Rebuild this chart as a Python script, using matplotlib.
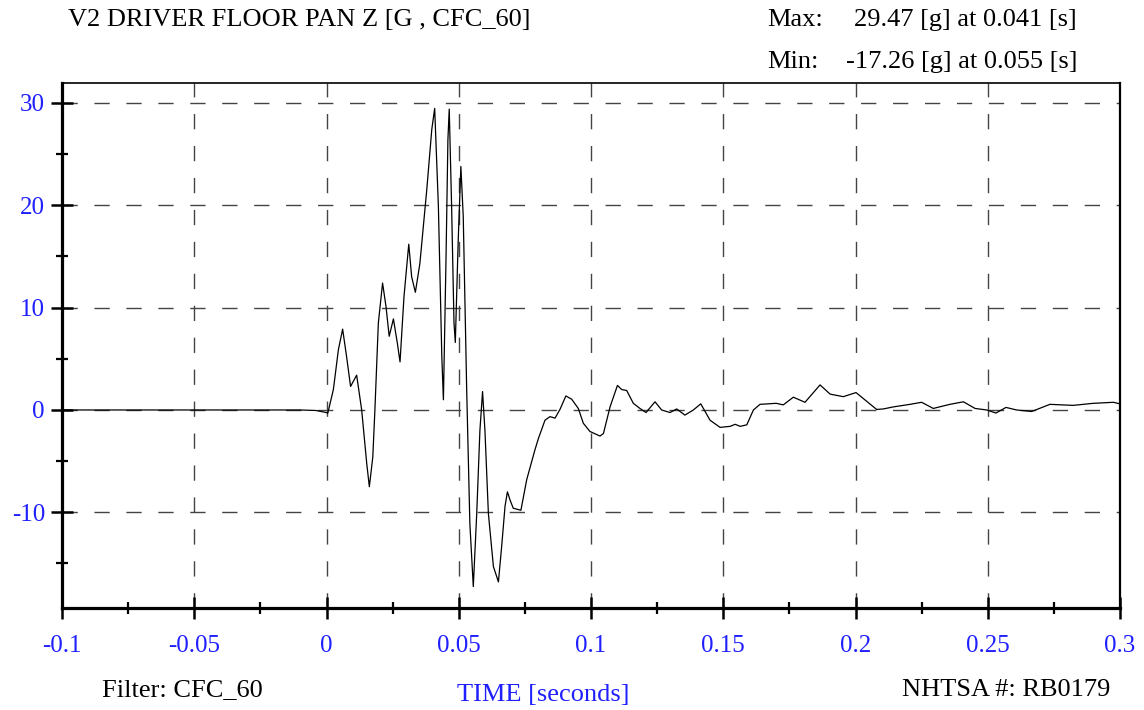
import matplotlib.pyplot as plt
from matplotlib.ticker import MultipleLocator, FixedLocator

# trace (time in s, acceleration in g)
time_s = [
    -0.1, -0.05, -0.01, -0.004, -0.001, 0.0005, 0.0026, 0.0045, 0.0061, 0.0076,
    0.0091, 0.0114, 0.0133, 0.0152, 0.0162, 0.0175, 0.0183, 0.0196, 0.0212, 0.0225,
    0.0237, 0.0253, 0.0268, 0.0278, 0.0293, 0.0311, 0.0322, 0.0336, 0.0353, 0.0379,
    0.0398, 0.0409, 0.0423, 0.0436, 0.0442, 0.0452, 0.0459, 0.0464, 0.0473, 0.0482,
    0.0487, 0.0498, 0.0508, 0.0517, 0.0530, 0.0542, 0.0555, 0.0568, 0.0580, 0.0590,
    0.0599, 0.0612, 0.0631, 0.0650, 0.0662, 0.0675, 0.0684, 0.0694, 0.0706, 0.0735,
    0.0757, 0.0788, 0.0801, 0.0826, 0.0845, 0.0864, 0.0883, 0.0905, 0.0927, 0.0952,
    0.0971, 0.0996, 0.1034, 0.1047, 0.1072, 0.1100, 0.1116, 0.1135, 0.1160, 0.1185,
    0.1208, 0.1242, 0.1267, 0.1299, 0.1324, 0.1355, 0.1387, 0.1415, 0.1450, 0.1488,
    0.1526, 0.1545, 0.1564, 0.1589, 0.1614, 0.1639, 0.1700, 0.1727, 0.1765, 0.1809,
    0.1866, 0.1904, 0.1954, 0.2002, 0.2080, 0.2105, 0.2143, 0.2206, 0.2250, 0.2294,
    0.2357, 0.2408, 0.2452, 0.2496, 0.2531, 0.2569, 0.2609, 0.2666, 0.2735, 0.2823,
    0.2899, 0.2975, 0.3,
]
accel_g = [
    0.0, 0.0, 0.0, -0.05, -0.2, -0.3, 2.0, 5.9, 7.9, 5.2,
    2.3, 3.4, 0.0, -5.2, -7.5, -4.6, 0.0, 8.5, 12.4, 10.1,
    7.2, 8.9, 6.5, 4.7, 11.1, 16.2, 13.0, 11.5, 14.3, 21.5,
    27.4, 29.47, 19.9, 5.2, 1.0, 15.0, 26.4, 29.4, 19.9, 8.5,
    6.6, 16.6, 23.8, 18.9, 2.0, -11.1, -17.26, -10.1, -2.0, 1.8,
    -2.0, -10.1, -15.3, -16.8, -13.4, -9.4, -8.0, -8.8, -9.6, -9.8,
    -6.8, -3.9, -2.8, -1.0, -0.65, -0.8, 0.07, 1.37, 1.05, 0.15,
    -1.3, -2.1, -2.55, -2.3, 0.3, 2.4, 2.0, 1.9, 0.65, 0.15,
    -0.25, 0.8, 0.0, -0.25, 0.1, -0.5, 0.0, 0.6, -1.0, -1.7,
    -1.6, -1.4, -1.6, -1.45, 0.0, 0.55, 0.65, 0.5, 1.25, 0.75,
    2.45, 1.55, 1.3, 1.7, 0.05, 0.1, 0.3, 0.55, 0.75, 0.15,
    0.55, 0.8, 0.15, 0.0, -0.3, 0.25, 0.0, -0.15, 0.55, 0.45,
    0.65, 0.75, 0.6,
]

x_ticks = [-0.1, -0.05, 0, 0.05, 0.1, 0.15, 0.2, 0.25, 0.3]
x_labels = ["-0.1", "-0.05", "0", "0.05", "0.1", "0.15", "0.2", "0.25", "0.3"]
y_ticks = [-10, 0, 10, 20, 30]
y_labels = ["-10", "0", "10", "20", "30"]

TITLE = "V2 DRIVER FLOOR PAN Z [G , CFC_60]"
MAX_TEXT = "29.47 [g] at 0.041 [s]"
MIN_TEXT = "-17.26 [g] at 0.055 [s]"

plt.rcParams["font.family"] = ["Liberation Serif", "DejaVu Serif"]
plt.rcParams["axes.unicode_minus"] = False
BLUE = "#1f1fff"
TXT = 19

fig = plt.figure(figsize=(11.44, 7.10), dpi=100)
ax = fig.add_axes([62 / 1144, 1 - 608 / 710, (1120 - 62) / 1144, (608 - 83) / 710])

ax.plot(time_s, accel_g, color="black", lw=0.9, solid_joinstyle="round")

ax.set_xlim(-0.1, 0.3)
ax.set_ylim(-19.35, 31.95)

ax.xaxis.set_major_locator(FixedLocator(x_ticks))
ax.set_xticklabels(x_labels)
ax.xaxis.set_minor_locator(MultipleLocator(0.025))
ax.yaxis.set_major_locator(FixedLocator(y_ticks))
ax.set_yticklabels(y_labels)
ax.yaxis.set_minor_locator(MultipleLocator(5))

ax.grid(True, which="major", color="#444444", lw=1.0, linestyle=(0, (11, 12)))
ax.set_axisbelow(True)

ax.spines["top"].set_linewidth(1.2)
ax.spines["right"].set_linewidth(1.6)
ax.spines["left"].set_linewidth(2.3)
ax.spines["bottom"].set_linewidth(2.3)

ax.tick_params(axis="both", which="major", direction="inout", length=16.5, width=1.8,
               labelsize=18, labelcolor=BLUE)
ax.tick_params(axis="both", which="minor", direction="inout", length=8, width=1.6)
ax.tick_params(axis="x", which="major", pad=11)
ax.tick_params(axis="y", which="major", pad=4)
ax.tick_params(top=False, right=False, which="both")

fig.text(68 / 1144, 1 - 20 / 710, TITLE, fontsize=TXT, va="center", ha="left")
fig.text(767 / 1144, 1 - 20 / 710, "Max:", fontsize=TXT, va="center", ha="left")
fig.text(1077 / 1144, 1 - 20 / 710, MAX_TEXT, fontsize=TXT, va="center", ha="right")
fig.text(767 / 1144, 1 - 62 / 710, "Min:", fontsize=TXT, va="center", ha="left")
fig.text(1077 / 1144, 1 - 62 / 710, MIN_TEXT, fontsize=TXT, va="center", ha="right")

fig.text(102 / 1144, 1 - 690 / 710, "Filter: CFC_60", fontsize=TXT, va="center", ha="left")
fig.text(543 / 1144, 1 - 695 / 710, "TIME [seconds]", fontsize=TXT, va="center",
         ha="center", color=BLUE)
fig.text(1110 / 1144, 1 - 690 / 710, "NHTSA #: RB0179", fontsize=TXT, va="center", ha="right")

fig.savefig("out.png", dpi=100)
